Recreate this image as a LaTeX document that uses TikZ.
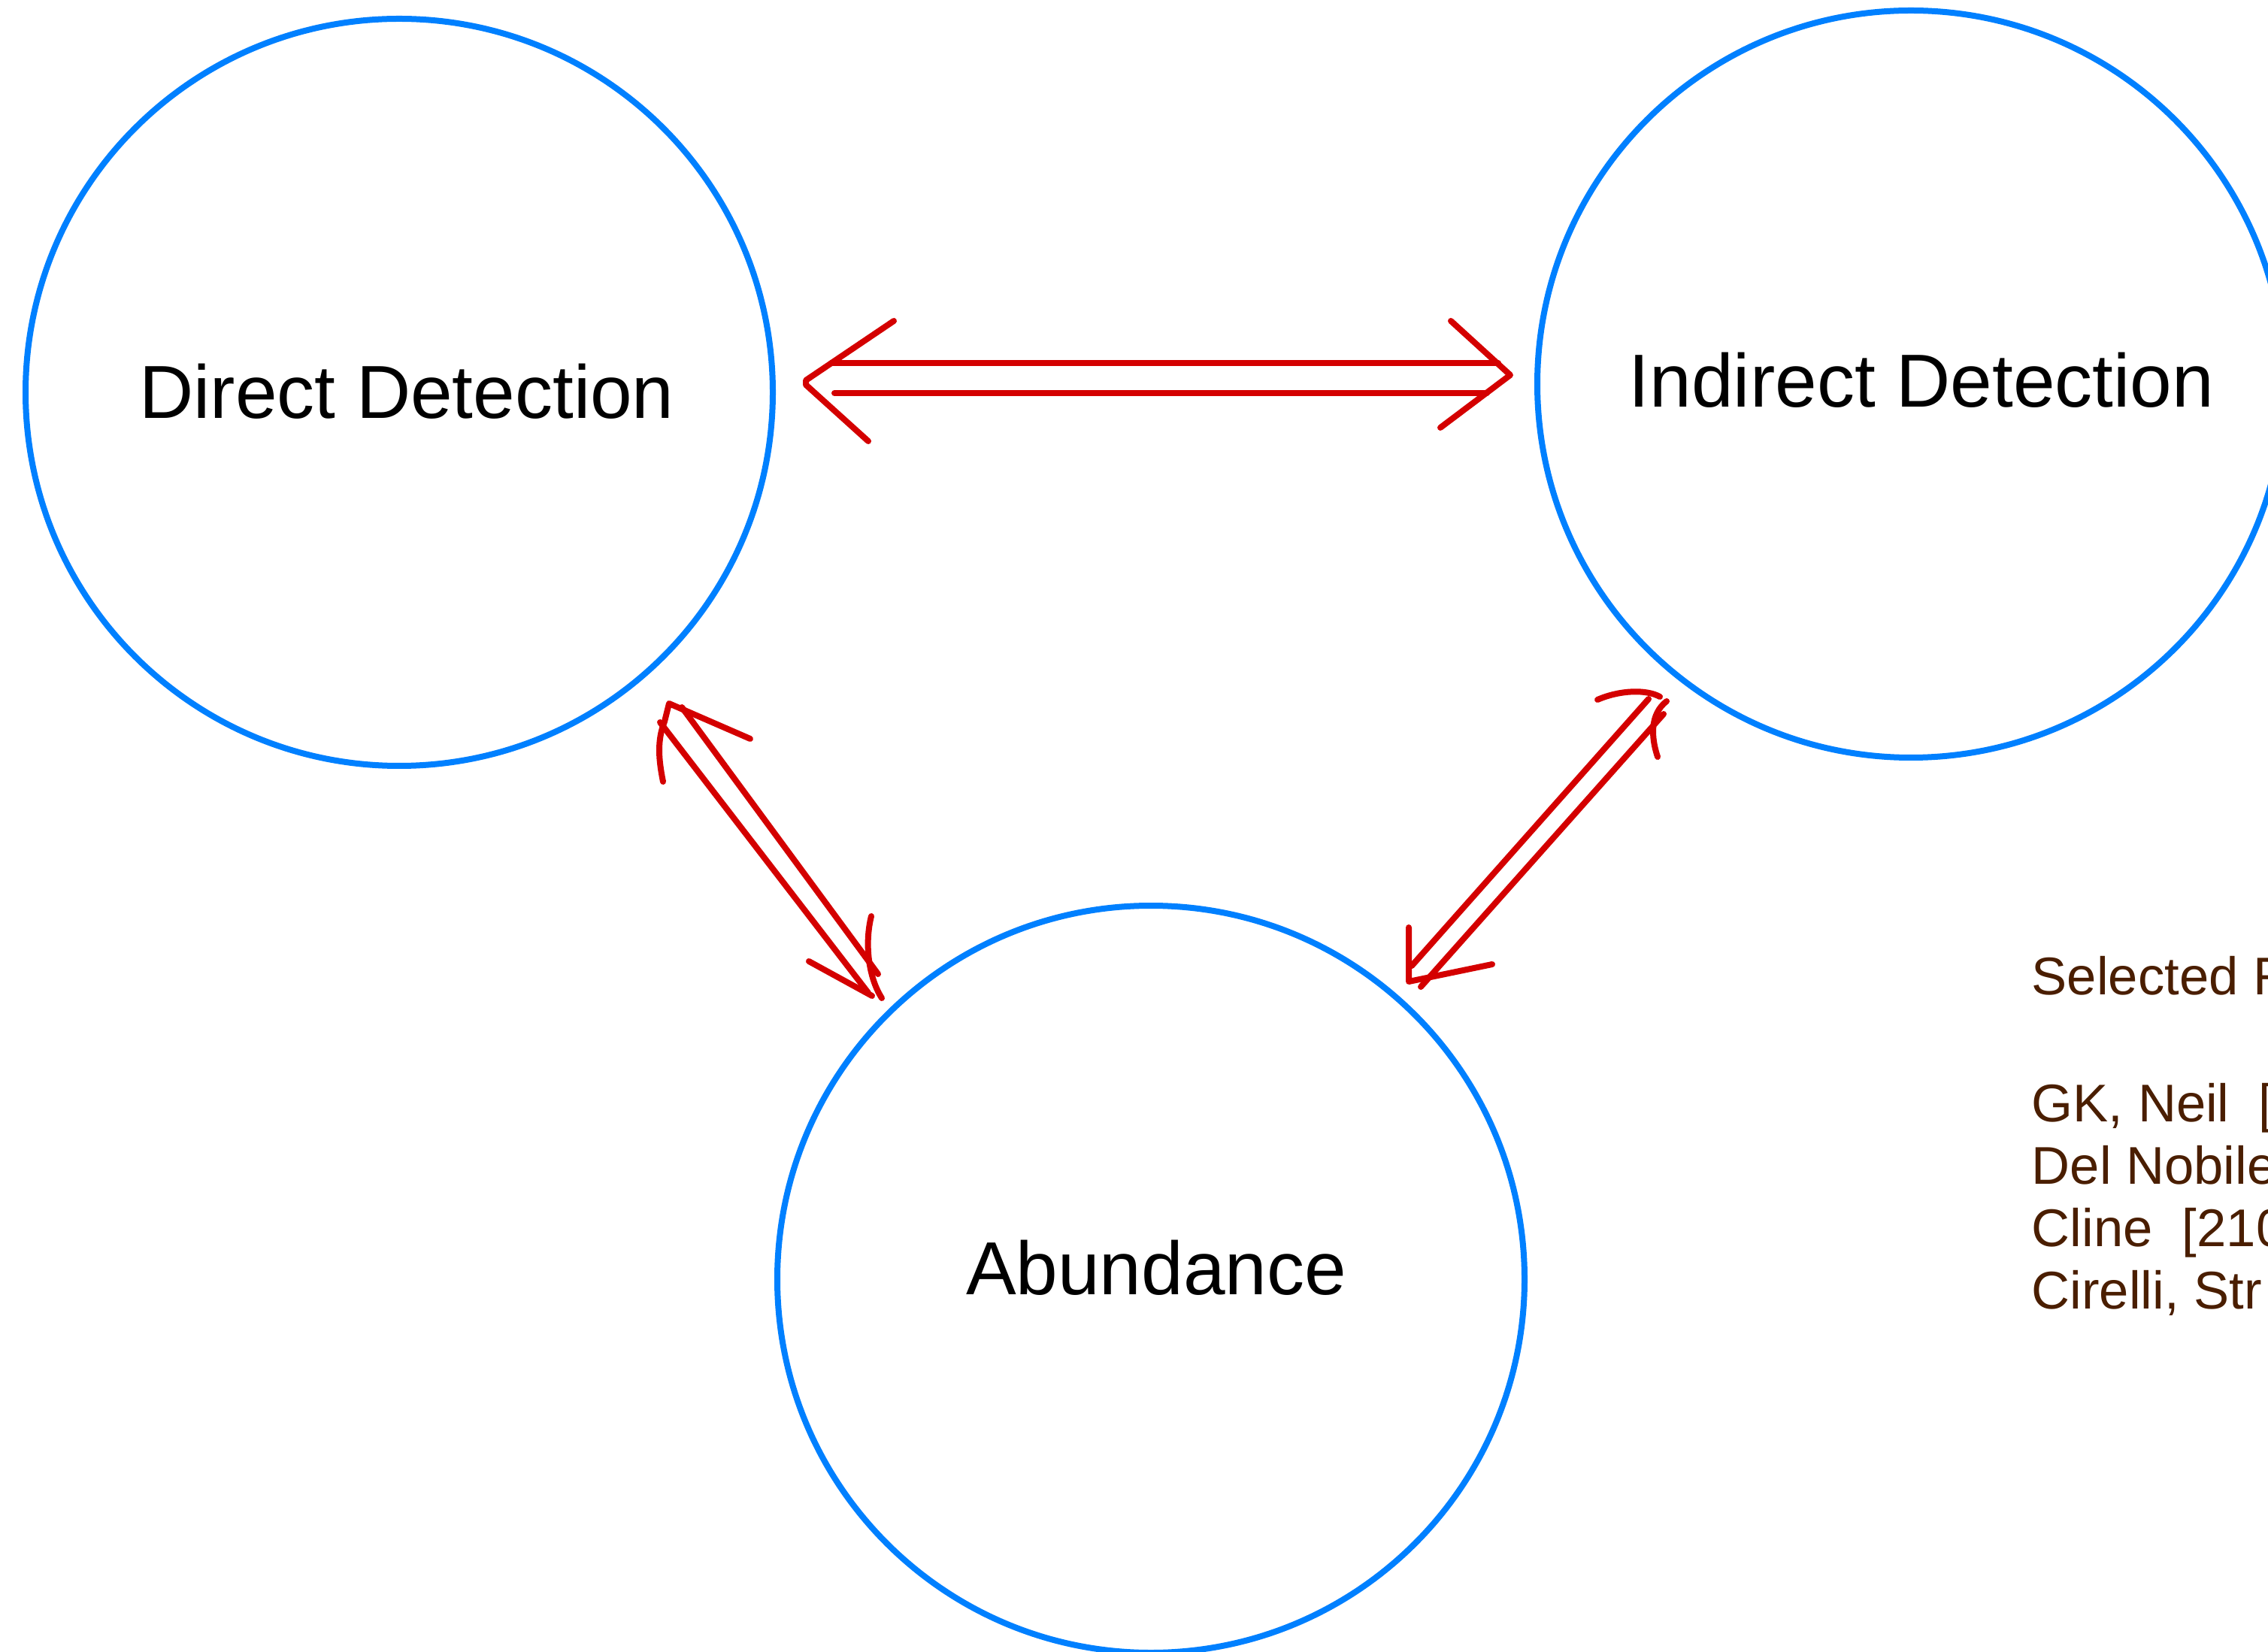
\documentclass[tikz,border=0pt]{standalone}
\usepackage{fontspec}
\setmainfont{Liberation Sans}
\definecolor{cblue}{RGB}{0,128,255}
\definecolor{ared}{RGB}{212,0,0}
\definecolor{refbrown}{RGB}{74,30,0}
\tikzset{
  bubble/.style={circle, draw=cblue, line width=0.08cm, minimum size=9.94cm, inner sep=0pt},
  lbl/.style={font=\fontsize{28.45pt}{34pt}\selectfont, anchor=base, inner sep=0pt},
  refline/.style={font=\fontsize{20.1pt}{24pt}\selectfont, text=refbrown, anchor=base west, inner sep=0pt},
  stroke/.style={draw=ared, line width=0.08cm, line cap=round, line join=round},
}
\begin{document}
\begin{tikzpicture}
\useasboundingbox (0,0) rectangle (30.17,-21.98);
\clip (0,0) rectangle (30.17,-21.98);
\fill[white] (0,0) rectangle (30.17,-21.98);

% circles
\node[bubble] (dd) at (5.31,-5.22) {};
\node[bubble] (id) at (25.42,-5.11) {};
\node[bubble] (ab) at (15.31,-17.02) {};
\node[lbl] (ddl) at (5.41,-5.57) {Direct Detection};
\node[lbl] (idl) at (25.56,-5.42) {Indirect Detection};
\node[lbl] (abl) at (15.38,-17.22) {Abundance};

% references (cut off at the right edge, as in the original)
\node[refline] (r0) at (27.02,-13.23) {Selected R};
\node[refline] (rA) at (27.02,-14.92) {GK, Neil~~[};
\node[refline] (rB) at (27.02,-15.75) {Del Nobile};
\node[refline] (rC) at (27.02,-16.58) {Cline~~[210};
\node[refline] (rD) at (27.02,-17.41) {Cirelli, Str};

% top double arrow
\coordinate (t1) at (11.89,-4.27);
\coordinate (t2) at (10.72,-5.06);
\coordinate (t3) at (10.72,-5.12);
\coordinate (t4) at (11.55,-5.87);
\coordinate (t5) at (11.06,-4.83);
\coordinate (t6) at (19.93,-4.83);
\coordinate (t7) at (11.10,-5.23);
\coordinate (t8) at (19.78,-5.23);
\coordinate (t9) at (19.30,-4.27);
\coordinate (t10) at (20.09,-4.99);
\coordinate (t11) at (19.16,-5.69);
\draw[stroke] (t1) -- (t2) -- (t3) -- (t4);
\draw[stroke] (t5) -- (t6);
\draw[stroke] (t7) -- (t8);
\draw[stroke] (t9) -- (t10) -- (t11);

% left diagonal double arrow
\coordinate (l1) at (8.90,-9.36);
\coordinate (l2) at (9.98,-9.83);
\coordinate (l3) at (8.84,-9.60);
\coordinate (l4) at (8.82,-10.40);
\coordinate (l5) at (8.78,-9.61);
\coordinate (l6) at (11.55,-13.21);
\coordinate (l7) at (9.07,-9.41);
\coordinate (l8) at (11.68,-12.96);
\coordinate (l9) at (10.76,-12.79);
\coordinate (l10) at (11.60,-13.25);
\coordinate (l11) at (11.59,-12.19);
\coordinate (l12) at (11.73,-13.28);
\draw[stroke] (l2) -- (l1) -- (l3) .. controls (8.74,-9.85) and (8.76,-10.10) .. (l4);
\draw[stroke] (l5) -- (l6);
\draw[stroke] (l7) -- (l8);
\draw[stroke] (l9) -- (l10);
\draw[stroke] (l11) .. controls (11.50,-12.55) and (11.55,-13.00) .. (l12);

% right diagonal double arrow
\coordinate (r1) at (21.25,-9.31);
\coordinate (r2) at (22.08,-9.27);
\coordinate (r3) at (21.93,-9.30);
\coordinate (r4) at (18.78,-12.85);
\coordinate (r5) at (22.13,-9.50);
\coordinate (r6) at (18.90,-13.13);
\coordinate (r7) at (22.17,-9.33);
\coordinate (r8) at (22.05,-10.07);
\coordinate (r9) at (18.74,-12.34);
\coordinate (r10) at (18.74,-13.06);
\coordinate (r11) at (19.85,-12.83);
\draw[stroke] (r1) .. controls (21.55,-9.18) and (21.90,-9.17) .. (r2);
\draw[stroke] (r3) -- (r4);
\draw[stroke] (r5) -- (r6);
\draw[stroke] (r7) .. controls (21.95,-9.50) and (21.96,-9.80) .. (r8);
\draw[stroke] (r9) -- (r10) -- (r11);
\end{tikzpicture}
\end{document}
